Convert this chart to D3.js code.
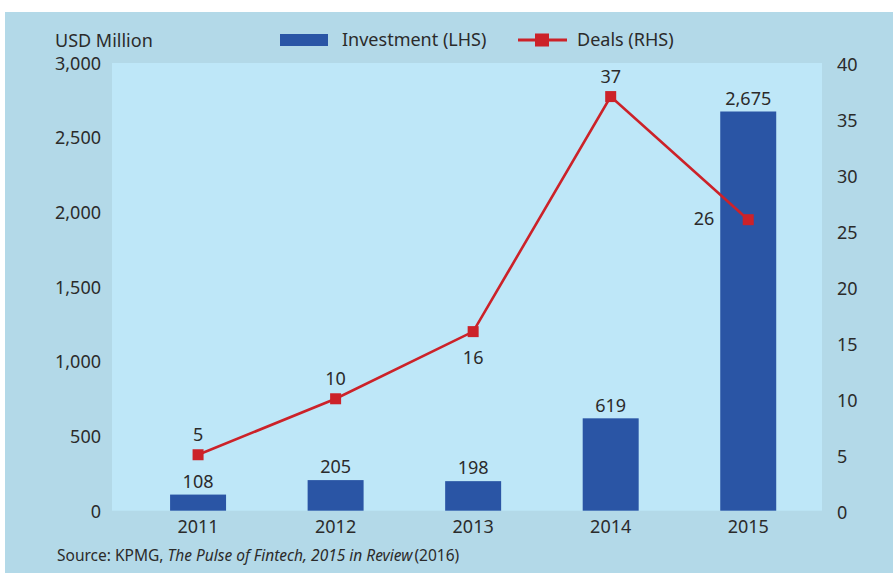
<!DOCTYPE html>
<html>
<head>
<meta charset="utf-8">
<script src="https://cdn.jsdelivr.net/npm/d3@7/dist/d3.min.js"></script>
<style>
  html, body { margin: 0; padding: 0; background: #ffffff; }
  svg { display: block; font-family: "Noto Sans", "Open Sans", sans-serif; }
</style>
</head>
<body>
<svg id="chart" width="893" height="573"></svg>
<script>
const years = ["2011", "2012", "2013", "2014", "2015"];
const investment = [108, 205, 198, 619, 2675];
const investmentLabels = ["108", "205", "198", "619", "2,675"];
const deals = [5, 10, 16, 37, 26];
const dealLabelPos = ["above", "above", "below", "above", "left"];
const leftTicks = [0, 500, 1000, 1500, 2000, 2500, 3000];
const rightTicks = [0, 5, 10, 15, 20, 25, 30, 35, 40];

const W = 893, H = 573;
const FS = 18;
const plot = { left: 112, right: 822, top: 63, bottom: 510.7 };
const colors = { panel: "#b3d9e8", plot: "#bee7f8", bar: "#2a55a5", line: "#cc2229", text: "#2b2b2b" };

const svg = d3.select("#chart");

svg.append("rect").attr("x", 5).attr("y", 12).attr("width", W - 5).attr("height", H - 12).attr("fill", colors.panel);
svg.append("rect").attr("x", plot.left).attr("y", plot.top)
  .attr("width", plot.right - plot.left).attr("height", plot.bottom - plot.top).attr("fill", colors.plot);

const x = d3.scaleBand().domain(years).range([129.3, 817]).paddingInner(0.593).paddingOuter(0.2965);
const yL = d3.scaleLinear().domain([0, 3000]).range([plot.bottom, plot.top]);
const yR = d3.scaleLinear().domain([0, 40]).range([plot.bottom, plot.top]);
const cx = d => x(d) + x.bandwidth() / 2;

const leftAxis = d3.axisLeft(yL).tickValues(leftTicks).tickSize(0).tickPadding(0).tickFormat(d3.format(","));
const gL = svg.append("g").attr("transform", "translate(101,0)").call(leftAxis);
gL.select(".domain").remove();
gL.selectAll("text").attr("fill", colors.text).attr("font-size", FS).attr("font-family", "Noto Sans").attr("dy", "0.35em");

const rightAxis = d3.axisRight(yR).tickValues(rightTicks).tickSize(0).tickPadding(0);
const gR = svg.append("g").attr("transform", "translate(837,1)").call(rightAxis);
gR.select(".domain").remove();
gR.selectAll("text").attr("fill", colors.text).attr("font-size", FS).attr("font-family", "Noto Sans").attr("dy", "0.35em");

const bottomAxis = d3.axisBottom(x).tickSize(0).tickPadding(0);
const gB = svg.append("g").attr("transform", "translate(0,527)").call(bottomAxis);
gB.select(".domain").remove();
gB.selectAll("text").attr("fill", colors.text).attr("font-size", FS).attr("font-family", "Noto Sans").attr("dy", "0.35em");

svg.append("g").selectAll("rect").data(years).join("rect")
  .attr("x", d => x(d)).attr("width", x.bandwidth())
  .attr("y", (d, i) => yL(investment[i])).attr("height", (d, i) => plot.bottom - yL(investment[i]))
  .attr("fill", colors.bar);

svg.append("g").selectAll("text").data(years).join("text")
  .attr("x", d => cx(d)).attr("y", (d, i) => yL(investment[i]) - 13)
  .attr("dy", "0.35em").attr("text-anchor", "middle")
  .attr("font-size", FS).attr("fill", colors.text)
  .text((d, i) => investmentLabels[i]);

const line = d3.line().x(d => cx(d.year)).y(d => yR(d.v));
const dealData = years.map((y, i) => ({ year: y, v: deals[i], pos: dealLabelPos[i] }));
svg.append("path").datum(dealData).attr("d", line)
  .attr("fill", "none").attr("stroke", colors.line).attr("stroke-width", 2.6);
svg.append("g").selectAll("rect").data(dealData).join("rect")
  .attr("x", d => cx(d.year) - 5.5).attr("y", d => yR(d.v) - 5.5)
  .attr("width", 11).attr("height", 11).attr("fill", colors.line);

svg.append("g").selectAll("text").data(dealData).join("text")
  .attr("x", d => d.pos === "left" ? cx(d.year) - 34 : cx(d.year))
  .attr("y", d => d.pos === "above" ? yR(d.v) - 20 : d.pos === "below" ? yR(d.v) + 26 : yR(d.v) - 1)
  .attr("dy", "0.35em")
  .attr("text-anchor", d => d.pos === "left" ? "end" : "middle")
  .attr("font-size", FS).attr("fill", colors.text)
  .text(d => d.v);

svg.append("text").attr("x", 55).attr("y", 41).attr("dy", "0.35em")
  .attr("font-size", FS).attr("fill", colors.text).text("USD Million");

const lg = svg.append("g");
lg.append("rect").attr("x", 280).attr("y", 34).attr("width", 48).attr("height", 12).attr("fill", colors.bar);
lg.append("text").attr("x", 342).attr("y", 40).attr("dy", "0.35em").attr("font-size", FS).attr("fill", colors.text).text("Investment (LHS)");
lg.append("line").attr("x1", 518).attr("x2", 567).attr("y1", 40).attr("y2", 40).attr("stroke", colors.line).attr("stroke-width", 3);
lg.append("rect").attr("x", 535).attr("y", 33.5).attr("width", 14).attr("height", 13).attr("fill", colors.line);
lg.append("text").attr("x", 577).attr("y", 40).attr("dy", "0.35em").attr("font-size", FS).attr("fill", colors.text).text("Deals (RHS)");

const src = svg.append("text").attr("x", 57).attr("y", 556).attr("dy", "0.35em").attr("font-size", 15.5).attr("fill", colors.text);
src.append("tspan").text("Source: KPMG, ");
src.append("tspan").attr("font-style", "italic").text("The Pulse of Fintech, 2015 in Review");
src.append("tspan").attr("dx", 2).text("(2016)");
</script>
</body>
</html>
